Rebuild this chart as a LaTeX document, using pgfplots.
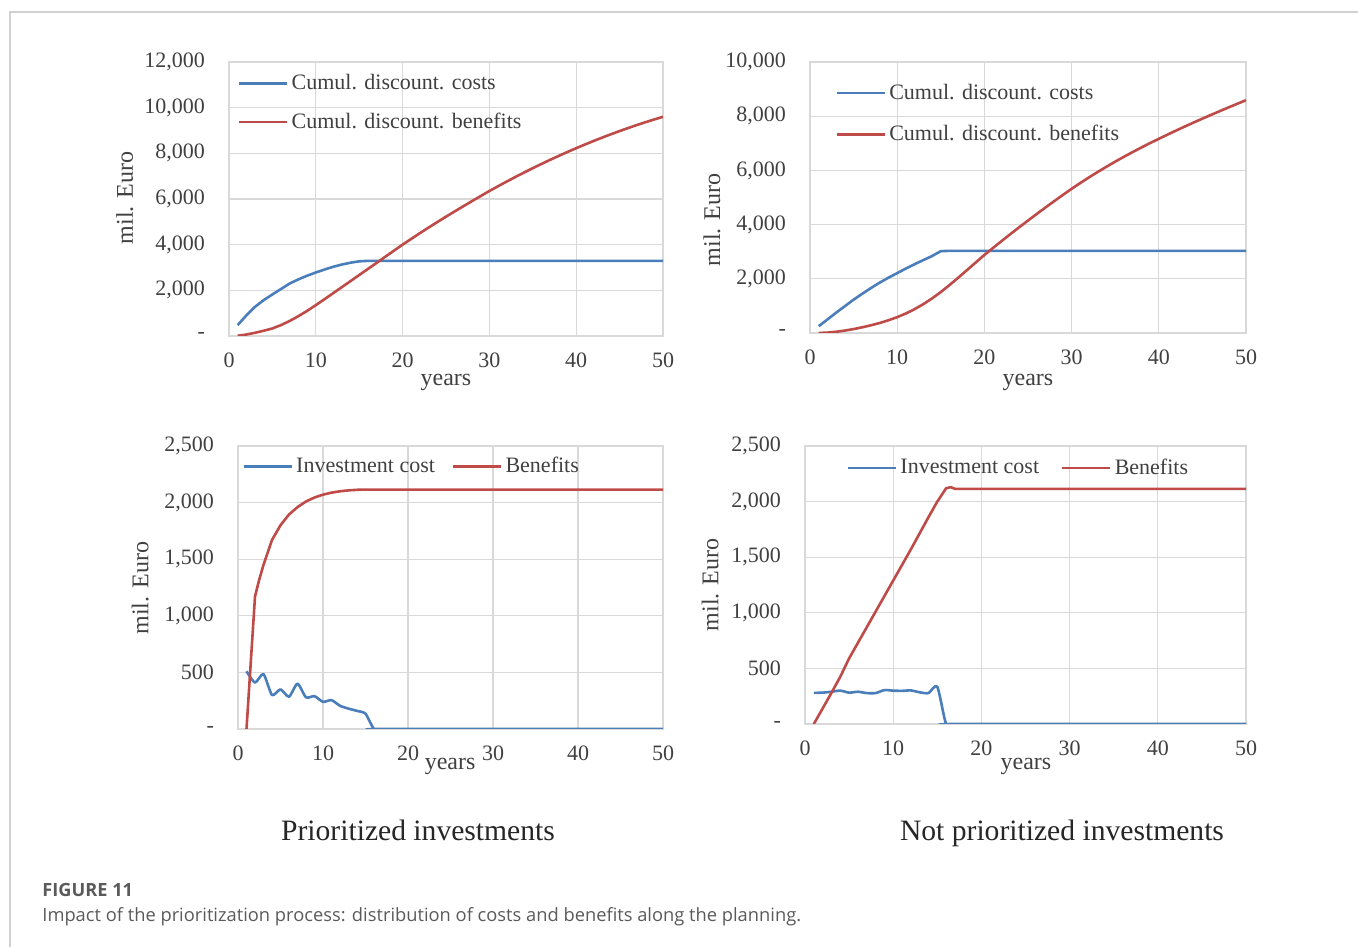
\documentclass[border=0pt]{standalone}
\usepackage{pgfplots}
\pgfplotsset{compat=1.18}
\usepackage{fontspec}
\setmainfont{Liberation Serif}
\newfontfamily\capfont{Open Sans}
\definecolor{xblue}{HTML}{4A7EBB}
\definecolor{xred}{HTML}{BE4B48}
\definecolor{gridc}{HTML}{D9D9D9}
\definecolor{tcol}{HTML}{404040}
\definecolor{capc}{HTML}{5A5A5A}
\pgfplotsset{
  panel/.style={
    scale only axis,
    xmin=0, xmax=50,
    xtick={0,10,20,30,40,50},
    scaled y ticks=false, scaled x ticks=false,
    /pgf/number format/assume math mode=true,
    grid=major,
    major grid style={gridc, line width=0.6bp},
    axis line style={gridc, line width=0.6bp},
    major tick length=0pt,
    tick label style={font=\fontsize{11bp}{13bp}\selectfont, text=tcol},
    xticklabel style={yshift=-5bp},
    yticklabel style={xshift=-8.5bp},
    label style={font=\fontsize{12bp}{14bp}\selectfont, text=tcol},
    xlabel={years}, ylabel={mil. Euro},
    legend style={draw=none, fill=none, inner sep=0pt, font=\fontsize{11bp}{13bp}\selectfont, text=tcol,
      nodes={inner xsep=1bp},
      /tikz/every odd column/.style={column sep=0.5bp}},
    legend image code/.code={\draw[#1] (0bp,0bp) -- (24bp,0bp);},
    legend cell align=left,
    every axis plot/.append style={line width=1.3bp, line join=round},
  }
}
\begin{document}
\begin{tikzpicture}
% ---------------- top left ----------------
\begin{axis}[panel, at={(114.5bp,305.5bp)}, anchor=south west, width=217bp, height=137bp,
  ymin=0, ymax=12000, ytick={0,2000,4000,6000,8000,10000,12000},
  yticklabels={-,{2,000},{4,000},{6,000},{8,000},{10,000},{12,000}},
  xlabel style={at={(axis description cs:0.5,-0.168)}, anchor=center},
  ylabel style={at={(axis description cs:-0.24,0.504)}, anchor=center},
  legend style={at={(axis description cs:0.02,0.97)}, anchor=north west, row sep=6bp}]
\addplot[xblue] coordinates {(1,480)(2,900)(3,1280)(4,1570)(5,1820)(6,2060)(7,2300)(8,2480)(9,2640)(10,2780)(11,2910)(12,3030)(13,3130)(14,3210)(15,3270)(16,3290)(50,3290)};
\addlegendentry{Cumul. discount. costs}
\addplot[xred] coordinates {(1,10)(2,65)(3,140)(4,230)(5,330)(6,480)(7,660)(8,870)(9,1100)(10,1350)(11,1610)(12,1875)(13,2140)(14,2405)(15,2670)(16,2935)(17,3200)(18,3470)(19,3735)(20,4000)(21,4255)(22,4505)(23,4750)(24,4990)(25,5225)(26,5455)(27,5683)(28,5908)(29,6130)(30,6350)(31,6560)(32,6765)(33,6965)(34,7160)(35,7350)(36,7535)(37,7715)(38,7890)(39,8060)(40,8225)(41,8385)(42,8540)(43,8690)(44,8835)(45,8975)(46,9110)(47,9240)(48,9365)(49,9485)(50,9600)};
\addlegendentry{Cumul. discount. benefits}
\end{axis}
% ---------------- top right ----------------
\begin{axis}[panel, at={(405bp,307bp)}, anchor=south west, width=218bp, height=135.5bp,
  ymin=0, ymax=10000, ytick={0,2000,4000,6000,8000,10000},
  yticklabels={-,{2,000},{4,000},{6,000},{8,000},{10,000}},
  xlabel style={at={(axis description cs:0.5,-0.181)}, anchor=center},
  ylabel style={at={(axis description cs:-0.225,0.417)}, anchor=center},
  legend style={at={(axis description cs:0.058,0.935)}, anchor=north west, row sep=7.5bp}]
\addplot[xblue] coordinates {(1,250)(2,500)(3,750)(4,990)(5,1230)(6,1450)(7,1660)(8,1860)(9,2040)(10,2210)(11,2380)(12,2540)(13,2690)(14,2840)(15,3020)(16,3030)(50,3030)};
\addlegendentry{Cumul. discount. costs}
\addplot[xred] coordinates {(1,0)(2,15)(3,45)(4,90)(5,145)(6,210)(7,285)(8,370)(9,470)(10,585)(11,720)(12,880)(13,1065)(14,1275)(15,1510)(16,1770)(17,2040)(18,2320)(19,2600)(20,2880)(21,3142)(22,3400)(23,3654)(24,3904)(25,4150)(26,4392)(27,4630)(28,4864)(29,5094)(30,5320)(31,5535)(32,5743)(33,5943)(34,6136)(35,6322)(36,6502)(37,6676)(38,6844)(39,7007)(40,7165)(41,7320)(42,7472)(43,7621)(44,7767)(45,7910)(46,8050)(47,8188)(48,8324)(49,8458)(50,8590)};
\addlegendentry{Cumul. discount. benefits}
\end{axis}
% ---------------- bottom left ----------------
\begin{axis}[panel, at={(119bp,109bp)}, anchor=south west, width=212.5bp, height=141.5bp,
  ymin=0, ymax=2500, ytick={0,500,1000,1500,2000,2500},
  yticklabels={-,500,{1,000},{1,500},{2,000},{2,500}},
  xlabel style={at={(axis description cs:0.499,-0.131)}, anchor=center},
  ylabel style={at={(axis description cs:-0.23,0.498)}, anchor=center},
  legend columns=2,
  legend style={at={(axis description cs:0.01,0.975)}, anchor=north west,
    /tikz/every even column/.style={column sep=7.5bp}}]
\addplot[xblue, smooth, tension=0.4] coordinates {(1,510)(2,410)(3,485)(4,300)(5,350)(6,285)(7,400)(8,280)(9,290)(10,240)(11,255)(12,205)(13,180)(14,160)(15,135)(16,0)(17,0)(50,0)};
\addlegendentry{Investment cost}
\addplot[xred] coordinates {(1,0)(2,1170)(2.5,1320)(3,1450)(4,1670)(5,1800)(6,1895)(7,1960)(8,2010)(9,2045)(10,2070)(11,2088)(12,2100)(13,2108)(14,2113)(15,2115)(50,2115)};
\addlegendentry{Benefits}
\end{axis}
% ---------------- bottom right ----------------
\begin{axis}[panel, at={(402.5bp,111.5bp)}, anchor=south west, width=220.5bp, height=139bp,
  ymin=0, ymax=2500, ytick={0,500,1000,1500,2000,2500},
  yticklabels={-,500,{1,000},{1,500},{2,000},{2,500}},
  xlabel style={at={(axis description cs:0.501,-0.151)}, anchor=center},
  ylabel style={at={(axis description cs:-0.215,0.5)}, anchor=center},
  legend columns=2,
  legend style={at={(axis description cs:0.094,0.97)}, anchor=north west,
    /tikz/every even column/.style={column sep=10bp}}]
\addplot[xblue, smooth, tension=0.4] coordinates {(1,280)(2,282)(3,290)(4,300)(5,282)(6,290)(7,278)(8,278)(9,305)(10,300)(11,298)(12,302)(13,285)(14,278)(15,335)(16,0)(17,0)(50,0)};
\addlegendentry{Investment cost}
\addplot[xred] coordinates {(1,0)(2,140)(3,280)(4,425)(5,590)(6,730)(7,870)(8,1010)(9,1150)(10,1290)(11,1430)(12,1570)(13,1715)(14,1860)(15,2000)(16,2120)(16.5,2130)(17,2115)(50,2115)};
\addlegendentry{Benefits}
\end{axis}
% ---------------- titles and caption ----------------
\node[anchor=base, font=\fontsize{14.8bp}{17bp}\selectfont, text=black!85] at (209bp,53bp) {Prioritized investments};
\node[anchor=base, font=\fontsize{14.8bp}{17bp}\selectfont, text=black!85] at (531bp,53bp) {Not prioritized investments};
\draw[color=black!18, line width=0.6bp] (5bp,0bp) -- (5bp,467.5bp) -- (679bp,467.5bp);
\node[anchor=west, inner sep=0pt, font=\capfont\fontsize{9.1bp}{11bp}\selectfont\bfseries, text=capc] at (21bp,28.5bp) {FIGURE 11};
\node[anchor=west, inner sep=0pt, font=\capfont\fontsize{9.15bp}{11bp}\selectfont, text=capc] at (21bp,15bp) {Impact of the prioritization process: distribution of costs and benefits along the planning.};
\pgfresetboundingbox
\path (0bp,0bp) rectangle (679bp,473.5bp);
\end{tikzpicture}
\end{document}
